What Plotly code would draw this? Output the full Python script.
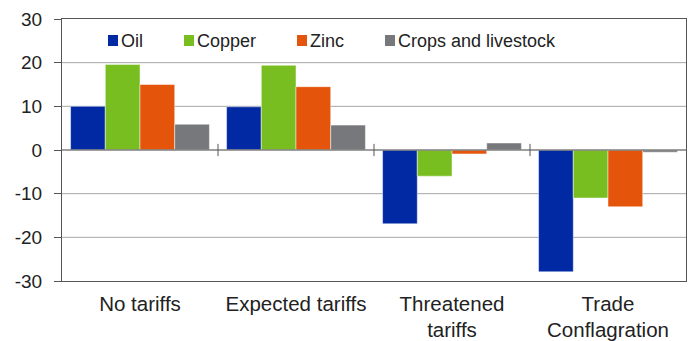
import plotly.graph_objects as go

scenarios = ["No tariffs", "Expected tariffs", "Threatened<br>tariffs", "Trade<br>Conflagration"]
series_names = ["Oil", "Copper", "Zinc", "Crops and livestock"]
oil = [10.0, 9.9, -16.9, -27.9]
copper = [19.6, 19.4, -6.0, -11.0]
zinc = [15.0, 14.5, -0.9, -13.0]
crops = [5.9, 5.7, 1.6, -0.5]
colors = ["#0029a3", "#78be21", "#e4540a", "#76787b"]
y_ticks = [-30, -20, -10, 0, 10, 20, 30]
y_tick_text = ["-30", "-20", "-10", "0", "10", "20", "30"]

W, H = 691, 341
ML, MR, MT, MB = 62, 5, 19, 60
PW, PH = W - ML - MR, H - MT - MB


def px_x(px):
    return (px - ML) / PW


def px_y(py):
    return (H - MB - py) / PH


fig = go.Figure()
for name, vals, col in zip(series_names, [oil, copper, zinc, crops], colors):
    fig.add_trace(go.Bar(
        x=scenarios, y=vals, name=name, showlegend=False,
        marker=dict(color=col, line=dict(color="rgba(255,255,255,0.6)", width=0.8)),
    ))

# horizontal grid lines
for v in [-20, -10, 10, 20]:
    fig.add_shape(type="line", xref="paper", yref="y", x0=0, x1=1, y0=v, y1=v,
                  line=dict(color="#a6a6a6", width=1), layer="below")
# zero line
fig.add_shape(type="line", xref="paper", yref="y", x0=0, x1=1, y0=0, y1=0,
              line=dict(color="#7f7f7f", width=1.5))
# category separator ticks on the zero line
for xb in [0.5, 1.5, 2.5]:
    fig.add_shape(type="line", xref="x", yref="y", x0=xb, x1=xb, y0=-1.4, y1=1.4,
                  line=dict(color="#555555", width=1))

# compact legend row: small square swatch followed by its label
swatch_left = [108, 184, 297, 385]
for name, col, sx in zip(series_names, colors, swatch_left):
    fig.add_shape(type="rect", xref="paper", yref="paper",
                  x0=px_x(sx), x1=px_x(sx + 10), y0=px_y(46), y1=px_y(35),
                  fillcolor=col, line=dict(width=0))
    fig.add_annotation(text=name, xref="paper", yref="paper",
                       x=px_x(sx + 12), y=px_y(41), xanchor="left", yanchor="middle",
                       showarrow=False, borderpad=0,
                       font=dict(size=18, color="#222222"))

fig.update_layout(
    width=W, height=H,
    margin=dict(l=ML, r=MR, t=MT, b=MB),
    paper_bgcolor="white", plot_bgcolor="white",
    barmode="group", bargap=0.11, bargroupgap=0,
    font=dict(family="Liberation Sans, Arial, sans-serif", color="#222222", size=17),
    showlegend=False,
    xaxis=dict(showgrid=False, showline=True, linecolor="#555555", mirror=True,
               ticks="", tickfont=dict(size=20.5), ticklabelstandoff=4,
               range=[-0.5, 3.5], automargin=False),
    yaxis=dict(range=[-30, 30], tickvals=y_ticks, ticktext=y_tick_text,
               showgrid=False, zeroline=False,
               showline=True, linecolor="#555555", mirror=True, linewidth=1,
               ticks="outside", ticklen=7, tickcolor="#555555",
               ticklabelstandoff=8, tickfont=dict(size=19), automargin=False),
)

fig.write_html("out.html")
